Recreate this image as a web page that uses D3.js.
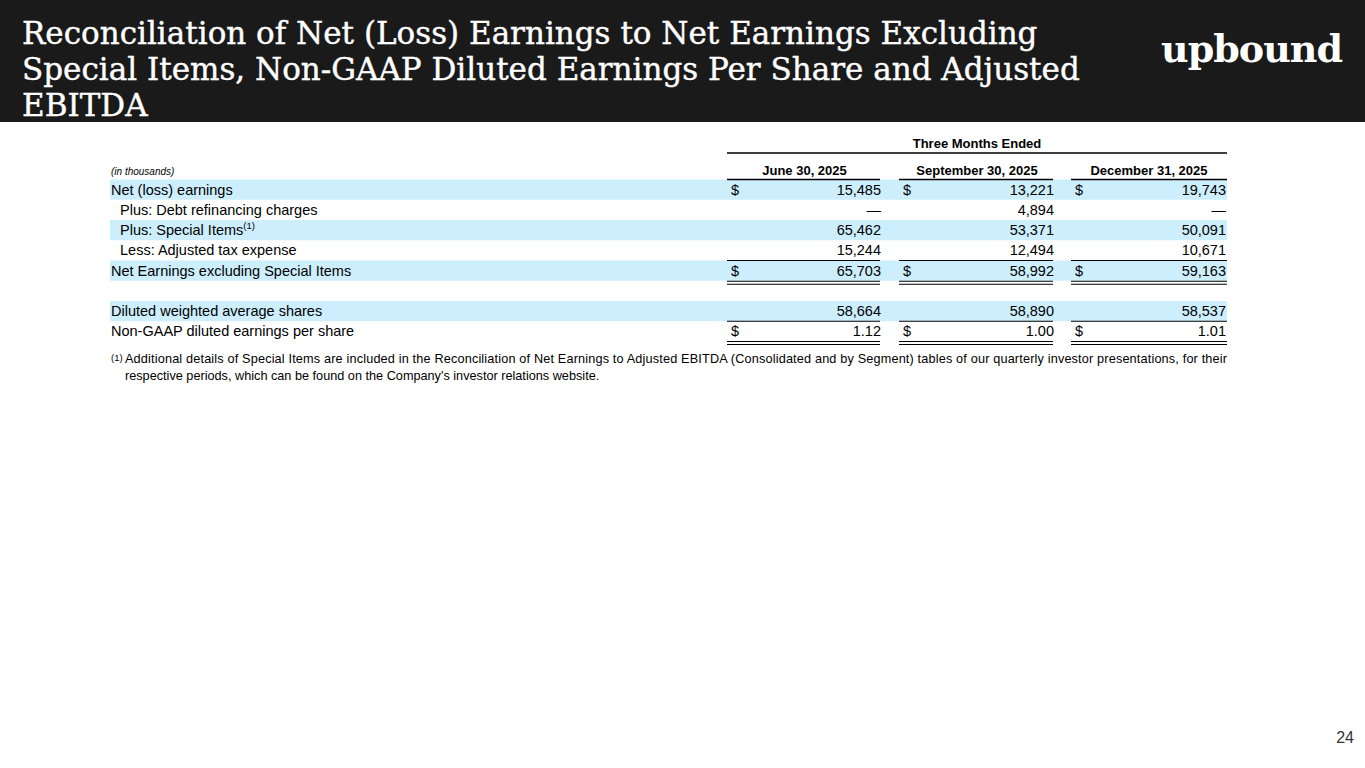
<!DOCTYPE html><html><head><meta charset="utf-8"><script src="https://cdn.jsdelivr.net/npm/d3@7"></script>
<style>body{margin:0;background:#fff}svg{display:block}</style></head><body><svg id="c" width="1365" height="768"></svg>
<script>
const titleLines=["Reconciliation of Net (Loss) Earnings to Net Earnings Excluding","Special Items, Non-GAAP Diluted Earnings Per Share and Adjusted","EBITDA"];
const periods=["June 30, 2025","September 30, 2025","December 31, 2025"];
const rowLabels=["Net (loss) earnings","Plus: Debt refinancing charges","Plus: Special Items","Less: Adjusted tax expense","Net Earnings excluding Special Items","","Diluted weighted average shares","Non-GAAP diluted earnings per share"];
const jun=["15,485","—","65,462","15,244","65,703","","58,664","1.12"];
const sep=["13,221","4,894","53,371","12,494","58,992","","58,890","1.00"];
const dec=["19,743","—","50,091","10,671","59,163","","58,537","1.01"];
const dollarRows=[0,4,7], indentRows=[1,2,3], shadedRows=[0,2,4,6];
const footnote=["Additional details of Special Items are included in the Reconciliation of Net Earnings to Adjusted EBITDA (Consolidated and by Segment) tables of our quarterly investor presentations, for their","respective periods, which can be found on the Company's investor relations website."];
const svg=d3.select("#c"),F="Liberation Sans, Arial, sans-serif";
svg.append("rect").attr("width",1365).attr("height",122).attr("fill","#1a1a1a");
svg.selectAll(".t").data(titleLines).join("text").attr("x",22).attr("y",(d,i)=>44+i*36).text(d=>d)
 .attr("fill","#fff").attr("font-family","DejaVu Serif, serif").attr("font-size",31).attr("stroke","#fff").attr("stroke-width",0.4);
svg.append("text").attr("x",1342).attr("y",62).attr("text-anchor","end").attr("fill","#fff").attr("font-family","DejaVu Serif, serif").attr("font-weight","bold").attr("font-size",38).attr("letter-spacing",-1).text("upbound");
const y=d3.scaleBand().domain(d3.range(8)).range([179.5,341.5]);
const cols=[[727,882],[899,1055],[1071,1227]];
svg.selectAll(".bg").data(shadedRows).join("rect").attr("x",110).attr("width",1117).attr("y",d=>y(d)).attr("height",y.bandwidth()).attr("fill","#cdeefd");
svg.append("text").attr("x",977).attr("y",148).attr("text-anchor","middle").attr("font-family",F).attr("font-weight","bold").attr("font-size",13).text("Three Months Ended");
svg.append("line").attr("x1",727).attr("x2",1227).attr("y1",153).attr("y2",153).attr("stroke","#000").attr("stroke-width",1.5);
svg.append("text").attr("x",111).attr("y",175).attr("font-family",F).attr("font-style","italic").attr("font-size",10).text("(in thousands)");
const vals=[jun,sep,dec];
cols.forEach((c,j)=>{
 svg.append("text").attr("x",(c[0]+c[1])/2).attr("y",175).attr("text-anchor","middle").attr("font-family",F).attr("font-weight","bold").attr("font-size",13).text(periods[j]);
 const L=(yy,w)=>svg.append("line").attr("x1",c[0]).attr("x2",c[1]+(j<2?-2:0)).attr("y1",yy).attr("y2",yy).attr("stroke","#000").attr("stroke-width",w);
 L(179.5,1.5);L(y(4),1);L(y(5)+0.5,1);L(y(5)+3.5,1);L(y(7),1);L(341.5,1);L(344.5,1);
 d3.range(8).forEach(r=>{if(!vals[j][r])return;
  svg.append("text").attr("x",c[1]-1).attr("y",y(r)+15).attr("text-anchor","end").attr("font-family",F).attr("font-size",14.5).text(vals[j][r]);
  if(dollarRows.includes(r))svg.append("text").attr("x",c[0]+4).attr("y",y(r)+15).attr("font-family",F).attr("font-size",14.5).text("$");});
});
d3.range(8).forEach(r=>{if(!rowLabels[r])return;
 const t=svg.append("text").attr("x",indentRows.includes(r)?120:111).attr("y",y(r)+15).attr("font-family",F).attr("font-size",14.5).text(rowLabels[r]);
 if(r==2)t.append("tspan").attr("font-size",9.5).attr("dy",-6).text("(1)");});
svg.append("text").attr("x",111).attr("y",361).attr("font-family",F).attr("font-size",9.5).text("(1)");
svg.append("text").attr("x",125).attr("y",363).attr("font-family",F).attr("font-size",12.7).attr("textLength",1102).text(footnote[0]);
svg.append("text").attr("x",125).attr("y",380).attr("font-family",F).attr("font-size",12.7).text(footnote[1]);
svg.append("text").attr("x",1354).attr("y",743).attr("text-anchor","end").attr("font-family",F).attr("font-size",16).attr("fill","#333").text("24");
</script></body></html>
